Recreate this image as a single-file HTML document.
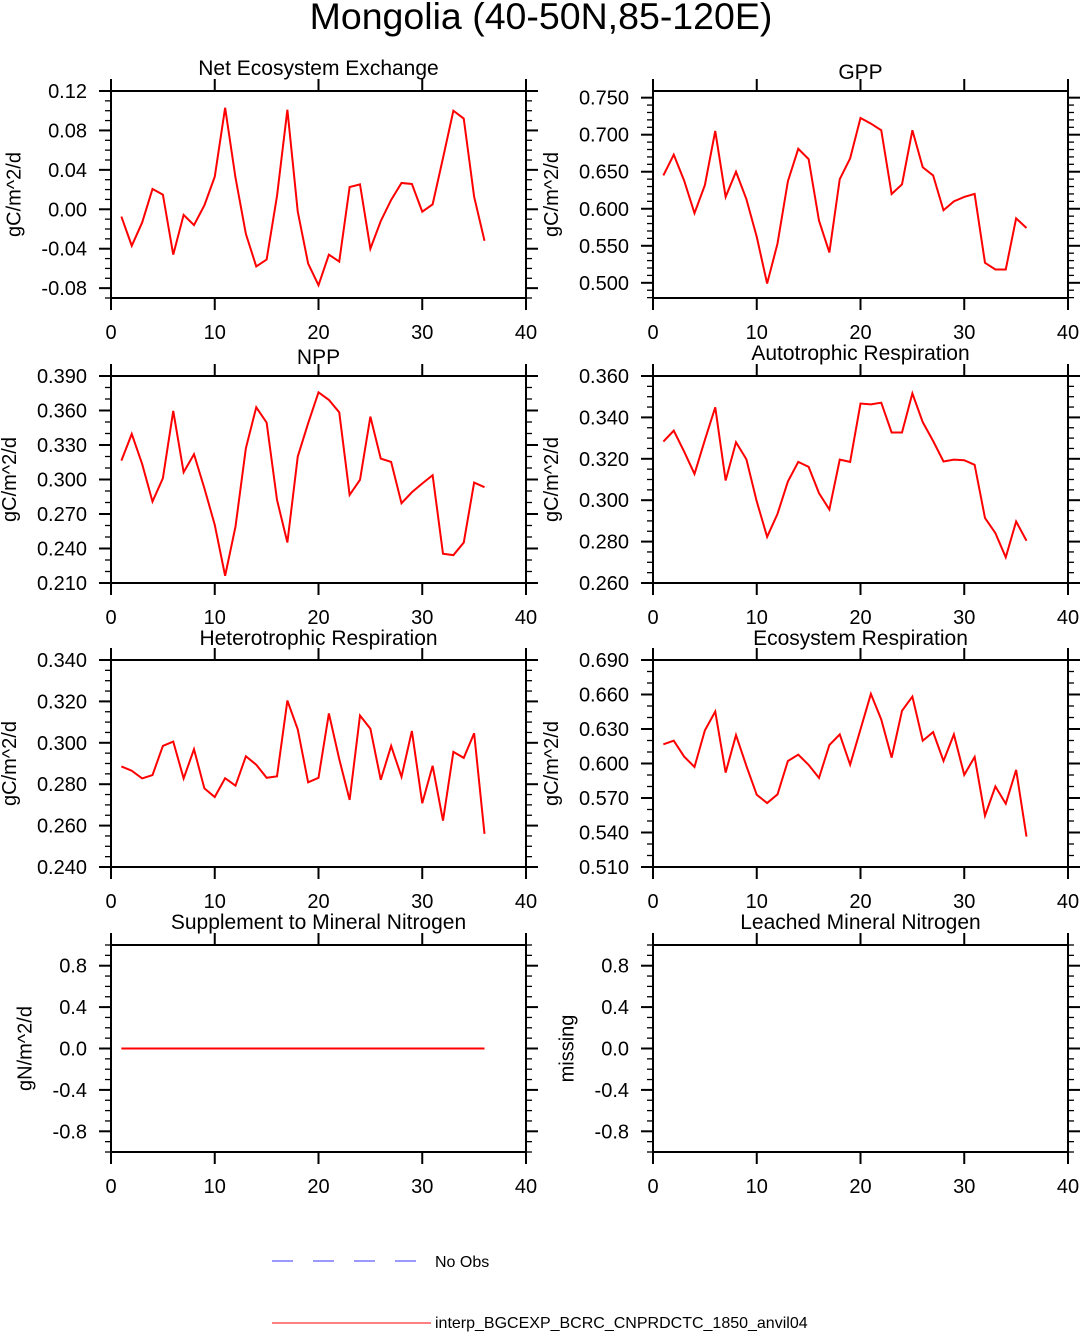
<!DOCTYPE html>
<html><head><meta charset="utf-8"><style>
html,body{margin:0;padding:0;background:#fff;}
svg{display:block;font-family:"Liberation Sans",Arial,sans-serif;}
</style></head><body>
<svg id="chart" width="1080" height="1332" viewBox="0 0 1080 1332" xmlns="http://www.w3.org/2000/svg">
<text x="541" y="29" font-size="37.5" text-anchor="middle">Mongolia (40-50N,85-120E)</text>
<g id="panels"></g>
<g>
<line x1="272" y1="1261" x2="417" y2="1261" stroke="#3333ff" stroke-width="1" stroke-dasharray="21,20"/>
<text x="435" y="1267" font-size="16">No Obs</text>
<line x1="272" y1="1323" x2="431" y2="1323" stroke="#ff0000" stroke-width="1"/>
<text x="435" y="1328" font-size="16">interp_BGCEXP_BCRC_CNPRDCTC_1850_anvil04</text>
</g>
</svg>
<script>
const years = Array.from({length:36},(_, i)=>i+1);
const xTicks = [0,10,20,30,40];
const neeVals = [-0.0074,-0.037,-0.0135,0.0206,0.0149,-0.046,-0.0057,-0.016,0.004,0.033,0.103,0.032,-0.025,-0.058,-0.051,0.0135,0.101,-0.0024,-0.055,-0.077,-0.046,-0.053,0.0226,0.0253,-0.040,-0.012,0.0095,0.0267,0.0257,-0.0024,0.005,0.052,0.100,0.092,0.0128,-0.032];
const gppVals = [0.645,0.673,0.638,0.594,0.632,0.705,0.616,0.650,0.613,0.562,0.499,0.553,0.637,0.681,0.667,0.584,0.541,0.640,0.668,0.7225,0.715,0.706,0.620,0.633,0.706,0.656,0.645,0.598,0.610,0.616,0.620,0.527,0.518,0.518,0.587,0.574];
const nppVals = [0.3164,0.3396,0.3135,0.2808,0.3011,0.3596,0.3063,0.322,0.2924,0.2606,0.2163,0.2591,0.3272,0.3628,0.3495,0.2823,0.2452,0.3199,0.3489,0.3758,0.3692,0.3584,0.2866,0.2997,0.3547,0.3182,0.3153,0.2794,0.2889,0.2965,0.3037,0.2354,0.2342,0.2452,0.2973,0.2933];
const arVals = [0.3283,0.3336,0.3235,0.3127,0.3291,0.3449,0.3095,0.328,0.3198,0.2994,0.2823,0.2934,0.309,0.3185,0.3161,0.3034,0.2955,0.3196,0.3185,0.3467,0.3463,0.3471,0.3327,0.3327,0.3516,0.3377,0.3286,0.3187,0.3196,0.3193,0.3171,0.2914,0.2841,0.2724,0.2897,0.2804];
const hrVals = [0.2886,0.2865,0.2828,0.2844,0.2985,0.3006,0.2828,0.2969,0.278,0.2738,0.2829,0.2793,0.2935,0.2894,0.2831,0.2838,0.3204,0.3065,0.2809,0.2831,0.3142,0.2921,0.2724,0.3132,0.3068,0.2821,0.2985,0.2836,0.3057,0.2708,0.2889,0.2624,0.2956,0.2927,0.3046,0.256];
const erVals = [0.6167,0.6198,0.606,0.597,0.6288,0.6452,0.5921,0.6247,0.5979,0.5728,0.5656,0.5731,0.6022,0.6077,0.5988,0.5875,0.6161,0.6253,0.599,0.6297,0.6605,0.6383,0.6051,0.6458,0.6582,0.6198,0.6273,0.6022,0.6253,0.5901,0.6057,0.5546,0.58,0.565,0.5944,0.5364];
const supVals = [0,0,0,0,0,0,0,0,0,0,0,0,0,0,0,0,0,0,0,0,0,0,0,0,0,0,0,0,0,0,0,0,0,0,0,0];
const neeTicks = ["0.12","0.08","0.04","0.00","-0.04","-0.08"];
const gppTicks = ["0.750","0.700","0.650","0.600","0.550","0.500"];
const nppTicks = ["0.390","0.360","0.330","0.300","0.270","0.240","0.210"];
const arTicks = ["0.360","0.340","0.320","0.300","0.280","0.260"];
const hrTicks = ["0.340","0.320","0.300","0.280","0.260","0.240"];
const erTicks = ["0.690","0.660","0.630","0.600","0.570","0.540","0.510"];
const nTicks = ["0.8","0.4","0.0","-0.4","-0.8"];

const NS="http://www.w3.org/2000/svg";
const root=document.getElementById('panels');
function mk(tag,attrs,parent,text){const e=document.createElementNS(NS,tag);for(const k in attrs)e.setAttribute(k,attrs[k]);if(text!==undefined)e.textContent=text;parent.appendChild(e);return e;}

const panels=[
 {id:'nee',title:'Net Ecosystem Exchange',ylab:'gC/m^2/d',L:111,T:91,ymin:-0.09,ymax:0.12,ticks:neeTicks,minor:0.01,vals:neeVals,ty:68},
 {id:'gpp',title:'GPP',ylab:'gC/m^2/d',L:653,T:91,ymin:0.4795,ymax:0.759,ticks:gppTicks,minor:0.01,vals:gppVals,ty:72},
 {id:'npp',title:'NPP',ylab:'gC/m^2/d',L:111,T:376,ymin:0.21,ymax:0.39,ticks:nppTicks,minor:0.01,vals:nppVals,ty:357},
 {id:'ar',title:'Autotrophic Respiration',ylab:'gC/m^2/d',L:653,T:376,ymin:0.26,ymax:0.36,ticks:arTicks,minor:0.005,vals:arVals,ty:353},
 {id:'hr',title:'Heterotrophic Respiration',ylab:'gC/m^2/d',L:111,T:660,ymin:0.24,ymax:0.34,ticks:hrTicks,minor:0.005,vals:hrVals,ty:638},
 {id:'er',title:'Ecosystem Respiration',ylab:'gC/m^2/d',L:653,T:660,ymin:0.51,ymax:0.69,ticks:erTicks,minor:0.01,vals:erVals,ty:638},
 {id:'sup',title:'Supplement to Mineral Nitrogen',ylab:'gN/m^2/d',L:111,T:945,ymin:-1,ymax:1,ticks:nTicks,minor:0.1,vals:supVals,ty:922},
 {id:'leach',title:'Leached Mineral Nitrogen',ylab:'missing',L:653,T:945,ymin:-1,ymax:1,ticks:nTicks,minor:0.1,vals:null,ty:922}
];
const W=415,H=207;
panels.forEach(p=>{
  const g=mk('g',{},root);
  
  
  const xs=v=>p.L+v/40*W;
  const ys=v=>p.T+H-(v-p.ymin)/(p.ymax-p.ymin)*H;
  const R=p.L+W,B=p.T+H;
  const t=mk('text',{x:p.L+W/2,y:p.ty+7,'font-size':21,'text-anchor':'middle'},g,p.title);
  
  
  const fr=mk('rect',{x:p.L,y:p.T,width:W,height:H,fill:'none',stroke:'#000','stroke-width':2},g);
  
  
  const start=Math.ceil(p.ymin/p.minor-1e-6);
  for(let k=start;k*p.minor<=p.ymax+1e-9;k++){
    const y=ys(k*p.minor);
    mk('line',{x1:p.L-6,x2:p.L,y1:y,y2:y,stroke:'#000','stroke-width':1.3},g);
    mk('line',{x1:R,x2:R+6,y1:y,y2:y,stroke:'#000','stroke-width':1.3},g);
  }
  let minLeft=p.L;
  p.ticks.forEach(s=>{
    const y=ys(parseFloat(s));
    mk('line',{x1:p.L-12,x2:p.L,y1:y,y2:y,stroke:'#000','stroke-width':2},g);
    mk('line',{x1:R,x2:R+12,y1:y,y2:y,stroke:'#000','stroke-width':2},g);
    const lb=mk('text',{x:p.L-24,y:y+7,'font-size':20,'text-anchor':'end'},g,s);
    
    
    const w=lb.getComputedTextLength();
    minLeft=Math.min(minLeft,p.L-24-w);
  });
  xTicks.forEach(v=>{
    const x=xs(v);
    mk('line',{x1:x,x2:x,y1:p.T-12,y2:p.T,stroke:'#000','stroke-width':2},g);
    mk('line',{x1:x,x2:x,y1:B,y2:B+12,stroke:'#000','stroke-width':2},g);
    const lb=mk('text',{x:x,y:B+41,'font-size':20,'text-anchor':'middle'},g,String(v));
    
    
  });
  const yl=mk('text',{x:0,y:0,'font-size':20,'text-anchor':'middle',transform:`translate(${minLeft-21},${p.T+H/2}) rotate(-90)`},g,p.ylab);
  
  
  if(p.vals){
    const d=p.vals.map((v,i)=>(i?'L':'M')+xs(years[i]).toFixed(2)+','+ys(v).toFixed(2)).join(' ');
    const ln=mk('path',{d:d,fill:'none',stroke:'#ff0000','stroke-width':2,'stroke-linejoin':'miter'},g);
    
    
  }
});
</script>
</body></html>
